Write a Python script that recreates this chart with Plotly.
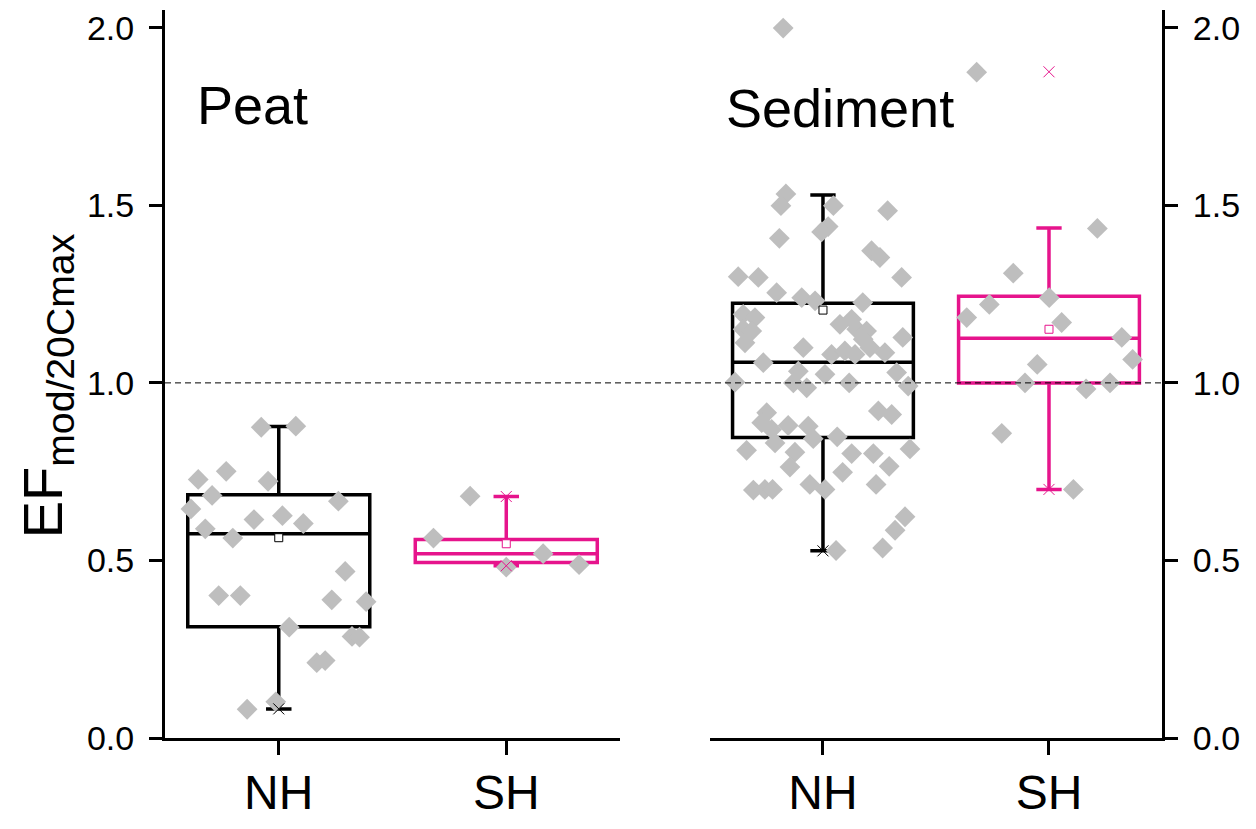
import plotly.graph_objects as go

# ---------------- data ----------------
groups = ["NH", "SH"]
group_pos = [1, 2]
y_ticks = [0.0, 0.5, 1.0, 1.5, 2.0]
y_tick_labels = ["0.0", "0.5", "1.0", "1.5", "2.0"]

# Box statistics [NH, SH]
peat_q1 = [0.313, 0.494]
peat_median = [0.575, 0.519]
peat_q3 = [0.685, 0.559]
peat_lower = [0.082, 0.485]
peat_upper = [0.877, 0.680]
peat_mean = [0.564, 0.547]

sed_q1 = [0.846, 1.000]
sed_median = [1.058, 1.126]
sed_q3 = [1.224, 1.244]
sed_lower = [0.527, 0.700]
sed_upper = [1.529, 1.436]
sed_mean = [1.205, 1.151]

# min / max markers
peat_nh_minmax = [0.082]
peat_sh_minmax = [0.680, 0.485]
sed_nh_minmax = [0.527]
sed_sh_minmax = [1.876, 0.700]

# Individual points: horizontal offset from group centre (category units) and value
peat_nh_off = [-0.077, 0.075, -0.231, -0.354, -0.047, -0.293, 0.262, -0.386, -0.109, 0.016,
               0.108, -0.323, -0.202, 0.292, -0.264, -0.169, 0.233, 0.384, 0.046, 0.322,
               0.355, 0.167, 0.204, -0.139, -0.013]
peat_nh_val = [0.875, 0.878, 0.751, 0.728, 0.723, 0.683, 0.667, 0.645, 0.615, 0.626,
               0.604, 0.589, 0.563, 0.469, 0.401, 0.401, 0.389, 0.384, 0.312, 0.286,
               0.284, 0.212, 0.218, 0.081, 0.102]

peat_sh_off = [-0.159, -0.320, 0.162, 0.000, 0.320]
peat_sh_val = [0.681, 0.563, 0.519, 0.481, 0.488]

sed_nh_off = [-0.176, -0.164, -0.186, 0.046, 0.286, 0.023, -0.006, -0.193, 0.215, 0.252,
              -0.375, -0.286, 0.348, -0.205, -0.094, -0.035, 0.176, -0.353, -0.301, -0.353,
              -0.315, -0.345, 0.075, 0.127, 0.149, 0.193, 0.178, 0.208, -0.087, 0.353,
              0.038, 0.097, 0.142, 0.274, -0.264, -0.109, 0.009, 0.326, -0.389, -0.131,
              -0.072, 0.116, 0.377, -0.249, -0.271, -0.154, -0.065, -0.227, 0.245, 0.304,
              -0.043, 0.063, -0.212, -0.338, -0.124, 0.127, 0.223, 0.385, -0.146, 0.087,
              0.293, -0.308, -0.257, -0.223, -0.058, 0.009, 0.235, 0.363, 0.319, 0.264,
              0.058]
sed_nh_val = [1.999, 1.532, 1.499, 1.499, 1.485, 1.440, 1.425, 1.407, 1.372, 1.353,
              1.299, 1.297, 1.297, 1.254, 1.240, 1.231, 1.226, 1.193, 1.184, 1.151,
              1.146, 1.113, 1.165, 1.179, 1.151, 1.146, 1.123, 1.099, 1.099, 1.128,
              1.080, 1.090, 1.080, 1.085, 1.057, 1.033, 1.024, 1.029, 1.002, 1.000,
              0.986, 1.000, 0.991, 0.916, 0.888, 0.880, 0.878, 0.869, 0.921, 0.911,
              0.843, 0.848, 0.831, 0.810, 0.805, 0.801, 0.801, 0.814, 0.763, 0.748,
              0.765, 0.698, 0.700, 0.700, 0.714, 0.700, 0.714, 0.623, 0.585, 0.535,
              0.528]

sed_sh_off = [-0.320, 0.214, -0.158, -0.264, -0.364, 0.001, 0.056, 0.322, 0.370, -0.052,
              -0.106, 0.164, 0.270, -0.209, 0.108]
sed_sh_val = [1.875, 1.435, 1.309, 1.221, 1.184, 1.240, 1.170, 1.128, 1.066, 1.052,
              1.000, 0.983, 1.000, 0.858, 0.700]

# ---------------- style ----------------
BLACK = "#000000"
PINK = "#E6148C"
GREY = "#BEBEBE"
FONT = "Liberation Sans, Arial, sans-serif"

fig = go.Figure()


def add_points(offs, vals, centre, xa, ya):
    fig.add_trace(go.Scatter(
        x=[centre + o for o in offs], y=vals, mode="markers",
        marker=dict(symbol="diamond", size=16, color=GREY, line=dict(width=0)),
        xaxis=xa, yaxis=ya, hoverinfo="skip"))


add_points(peat_nh_off, peat_nh_val, group_pos[0], "x", "y")
add_points(peat_sh_off, peat_sh_val, group_pos[1], "x", "y")
add_points(sed_nh_off, sed_nh_val, group_pos[0], "x2", "y2")
add_points(sed_sh_off, sed_sh_val, group_pos[1], "x2", "y2")


def add_box(i, q1, med, q3, lo, hi, color, xa, ya):
    fig.add_trace(go.Box(
        x=[group_pos[i]], q1=[q1[i]], median=[med[i]], q3=[q3[i]],
        lowerfence=[lo[i]], upperfence=[hi[i]],
        width=0.8, whiskerwidth=0.14, boxpoints=False,
        fillcolor="rgba(0,0,0,0)", line=dict(color=color, width=3.5),
        xaxis=xa, yaxis=ya, hoverinfo="skip"))


add_box(0, peat_q1, peat_median, peat_q3, peat_lower, peat_upper, BLACK, "x", "y")
add_box(1, peat_q1, peat_median, peat_q3, peat_lower, peat_upper, PINK, "x", "y")
add_box(0, sed_q1, sed_median, sed_q3, sed_lower, sed_upper, BLACK, "x2", "y2")
add_box(1, sed_q1, sed_median, sed_q3, sed_lower, sed_upper, PINK, "x2", "y2")


def add_mean(xv, yv, color, xa, ya):
    fig.add_trace(go.Scatter(
        x=[xv], y=[yv], mode="markers",
        marker=dict(symbol="square", size=8, color="white", line=dict(color=color, width=1)),
        xaxis=xa, yaxis=ya, hoverinfo="skip"))


add_mean(group_pos[0], peat_mean[0], BLACK, "x", "y")
add_mean(group_pos[1], peat_mean[1], PINK, "x", "y")
add_mean(group_pos[0], sed_mean[0], BLACK, "x2", "y2")
add_mean(group_pos[1], sed_mean[1], PINK, "x2", "y2")


def add_minmax(xv, vals, color, xa, ya):
    fig.add_trace(go.Scatter(
        x=[xv] * len(vals), y=vals, mode="markers",
        marker=dict(symbol="x-thin-open", size=11, color=color, line=dict(color=color, width=1)),
        xaxis=xa, yaxis=ya, hoverinfo="skip"))


add_minmax(group_pos[0], peat_nh_minmax, BLACK, "x", "y")
add_minmax(group_pos[1], peat_sh_minmax, PINK, "x", "y")
add_minmax(group_pos[0], sed_nh_minmax, BLACK, "x2", "y2")
add_minmax(group_pos[1], sed_sh_minmax, PINK, "x2", "y2")

xcommon = dict(range=[0.5, 2.5], tickvals=group_pos, ticktext=groups, ticks="outside",
               ticklen=14, tickwidth=2.5, tickcolor=BLACK, showline=True, linewidth=3,
               linecolor=BLACK, showgrid=False, zeroline=False, automargin=False,
               ticklabelstandoff=-4,
               tickfont=dict(family=FONT, size=48, color=BLACK))
ycommon = dict(range=[0, 2.05], tickvals=y_ticks, ticktext=y_tick_labels, ticks="outside",
               ticklen=13, tickwidth=2.5, tickcolor=BLACK, showline=True, linewidth=3,
               linecolor=BLACK, showgrid=False, zeroline=False, ticklabelstandoff=8,
               automargin=False, tickfont=dict(family=FONT, size=34, color=BLACK))

# page body has an 8px margin: figure sized to fit the 1256x829 window
fig.update_layout(
    template="none",
    width=1240, height=813,
    margin=dict(l=157, r=86, t=2, b=83, pad=0),
    paper_bgcolor="white", plot_bgcolor="white",
    showlegend=False,
    xaxis=dict(domain=[0, 0.4564], anchor="y", **xcommon),
    yaxis=dict(domain=[0, 1], anchor="x", side="left", **ycommon),
    xaxis2=dict(domain=[0.5466, 1], anchor="y2", **xcommon),
    yaxis2=dict(domain=[0, 1], anchor="x2", side="right", **ycommon),
    shapes=[dict(type="line", xref="paper", yref="y", x0=0, x1=1, y0=1, y1=1,
                 line=dict(color=BLACK, width=1, dash="6px,4px"))],
    annotations=[
        dict(text="Peat", xref="paper", yref="y", x=0.030, y=1.783, xanchor="left",
             yanchor="middle", showarrow=False, font=dict(family=FONT, size=54, color=BLACK)),
        dict(text="Sediment", xref="paper", yref="y", x=0.561, y=1.774, xanchor="left",
             yanchor="middle", showarrow=False, font=dict(family=FONT, size=54, color=BLACK)),
        dict(text="EF<sub>mod/20Cmax</sub>", xref="paper", yref="paper", x=-0.119, y=0.4835,
             xanchor="center", yanchor="middle", textangle=-90, showarrow=False,
             font=dict(family=FONT, size=56, color=BLACK)),
    ],
)

fig.write_html("out.html")
